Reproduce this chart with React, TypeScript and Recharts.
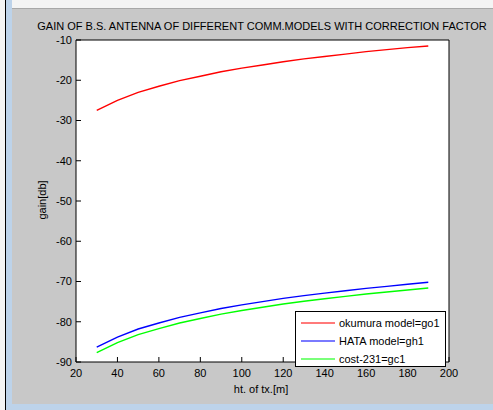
import React from 'react';
import { LineChart, Line, XAxis, YAxis, CartesianGrid } from 'recharts';

// antenna height of the transmitter [m]
const heights = [30, 40, 50, 60, 70, 80, 90, 100, 110, 120, 130, 140, 150, 160, 170, 180, 190];

// gain [db]
const okumura = [-27.5, -25.0, -23.0, -21.5, -20.1, -19.0, -17.9, -17.0, -16.2, -15.4, -14.7, -14.1, -13.5, -12.9, -12.4, -11.9, -11.5];
const hata = [-86.3, -83.8, -81.8, -80.3, -78.9, -77.8, -76.7, -75.8, -75.0, -74.2, -73.5, -72.9, -72.3, -71.7, -71.2, -70.7, -70.2];
const cost231 = [-87.7, -85.2, -83.2, -81.7, -80.3, -79.2, -78.1, -77.2, -76.4, -75.6, -74.9, -74.3, -73.7, -73.1, -72.6, -72.1, -71.6];

const xTicks = [20, 40, 60, 80, 100, 120, 140, 160, 180, 200];
const yTicks = [-90, -80, -70, -60, -50, -40, -30, -20, -10];

const series = [
    { key: 'go1', name: 'okumura model=go1', color: '#ff0000', legend: '#ff7a7a' },
    { key: 'gh1', name: 'HATA model=gh1', color: '#0000ff', legend: '#7a7aff' },
    { key: 'gc1', name: 'cost-231=gc1', color: '#00ff00', legend: '#7aff7a' },
];

const data = heights.map((h, i) => ({
    h,
    go1: okumura[i],
    gh1: hata[i],
    gc1: cost231[i],
}));

const FONT = '"Liberation Sans", Arial, sans-serif';

// MATLAB style ticks point into the axes box
const BottomTick = ({ x, y, payload }: any) => (
    <g>
        <line x1={x} y1={y} x2={x} y2={y - 5} stroke="#000" />
        <text x={x} y={y + 11} dy="0.355em" textAnchor="middle" fontSize={11} fontFamily={FONT} fill="#000">
            {payload.value}
        </text>
    </g>
);

const LeftTick = ({ x, y, payload }: any) => (
    <g>
        <line x1={x} y1={y} x2={x + 5} y2={y} stroke="#000" />
        <text x={x - 4} y={y} dy="0.355em" textAnchor="end" fontSize={11} fontFamily={FONT} fill="#000">
            {payload.value}
        </text>
    </g>
);

const TopTick = ({ x, y }: any) => <line x1={x} y1={y} x2={x} y2={y + 5} stroke="#000" />;
const RightTick = ({ x, y }: any) => <line x1={x} y1={y} x2={x - 5} y2={y} stroke="#000" />;

const textStyle: React.CSSProperties = {
    position: 'absolute',
    whiteSpace: 'nowrap',
    fontFamily: FONT,
    fontSize: 11,
    color: '#000',
};

export default function App() {
    return (
        <div style={{ position: 'fixed', left: 0, top: 0, width: 493, height: 410, background: '#f4f4f4', overflow: 'hidden' }}>
            {/* window frame */}
            <div style={{ position: 'absolute', left: 5, top: 0, width: 1, height: 410, background: '#000' }} />
            <div style={{ position: 'absolute', left: 6, top: 0, width: 6, height: 410, background: '#bdd3ea' }} />
            <div style={{ position: 'absolute', left: 6, top: 404, width: 487, height: 6, background: '#bdd3ea' }} />
            <div
                style={{
                    position: 'absolute',
                    left: 12,
                    top: 8,
                    width: 481,
                    height: 396,
                    background: '#c8c8c8',
                    borderTop: '1px solid #a8a8a8',
                    boxSizing: 'border-box',
                }}
            />

            <div style={{ position: 'absolute', left: 0, top: 0 }}>
                <LineChart width={493} height={410} data={data} margin={{ top: 39, right: 43, bottom: 47, left: 75 }}>
                    <CartesianGrid horizontal={false} vertical={false} fill="#ffffff" />
                    <XAxis
                        dataKey="h"
                        type="number"
                        domain={[20, 200]}
                        ticks={xTicks}
                        interval={0}
                        height={1}
                        tickSize={0}
                        tickMargin={0}
                        tickLine={false}
                        axisLine={{ stroke: '#000' }}
                        tick={<BottomTick />}
                    />
                    <XAxis
                        xAxisId="top"
                        orientation="top"
                        type="number"
                        domain={[20, 200]}
                        ticks={xTicks}
                        interval={0}
                        height={1}
                        tickSize={0}
                        tickMargin={0}
                        tickLine={false}
                        axisLine={{ stroke: '#000' }}
                        tick={<TopTick />}
                    />
                    <YAxis
                        type="number"
                        domain={[-90, -10]}
                        ticks={yTicks}
                        interval={0}
                        width={1}
                        tickSize={0}
                        tickMargin={0}
                        tickLine={false}
                        axisLine={{ stroke: '#000' }}
                        tick={<LeftTick />}
                    />
                    <YAxis
                        yAxisId="right"
                        orientation="right"
                        type="number"
                        domain={[-90, -10]}
                        ticks={yTicks}
                        interval={0}
                        width={1}
                        tickSize={0}
                        tickMargin={0}
                        tickLine={false}
                        axisLine={{ stroke: '#000' }}
                        tick={<RightTick />}
                    />
                    {series.map((s) => (
                        <Line
                            key={s.key}
                            dataKey={s.key}
                            name={s.name}
                            stroke={s.color}
                            strokeWidth={1.4}
                            dot={false}
                            activeDot={false}
                            isAnimationActive={false}
                        />
                    ))}
                </LineChart>
            </div>

            {/* legend box */}
            <div
                style={{
                    position: 'absolute',
                    left: 295,
                    top: 311,
                    width: 151,
                    height: 56,
                    boxSizing: 'border-box',
                    border: '1px solid #000',
                    background: '#fff',
                    paddingTop: 2,
                    fontFamily: FONT,
                    fontSize: 11,
                    color: '#000',
                }}
            >
                {series.map((s) => (
                    <div key={s.key} style={{ display: 'flex', alignItems: 'center', height: 18 }}>
                        <span style={{ width: 34, height: 2, marginLeft: 5, marginRight: 4, background: s.legend }} />
                        <span>{s.name}</span>
                    </div>
                ))}
            </div>

            {/* titles */}
            <div style={{ ...textStyle, left: 262, top: 26, transform: 'translate(-50%, -50%)' }}>
                GAIN OF B.S. ANTENNA OF DIFFERENT COMM.MODELS WITH CORRECTION FACTOR
            </div>
            <div style={{ ...textStyle, left: 261, top: 389, transform: 'translate(-50%, -50%)' }}>
                ht. of tx.[m]
            </div>
            <div style={{ ...textStyle, left: 42, top: 200, transform: 'translate(-50%, -50%) rotate(-90deg)' }}>
                gain[db]
            </div>
        </div>
    );
}
